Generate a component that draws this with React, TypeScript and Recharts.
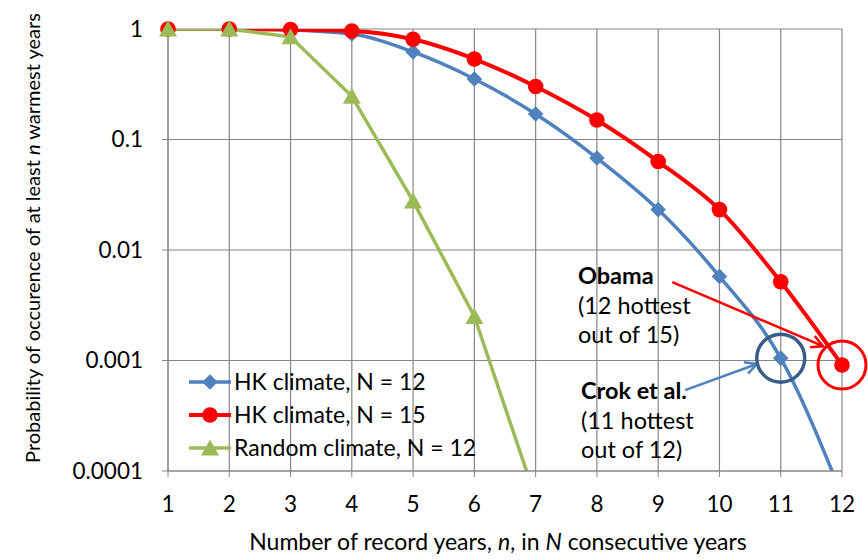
import React from "react";
import {
  LineChart,
  Line,
  XAxis,
  YAxis,
  CartesianGrid,
  ReferenceDot,
  ReferenceLine,
  Legend,
} from "recharts";

// values (log scale, clipped below 0.0001)
const years = [1, 2, 3, 4, 5, 6, 7, 8, 9, 10, 11, 12];
const hkN12 = [1, 1, 0.98, 0.9, 0.62, 0.353, 0.17, 0.068, 0.0232, 0.00577, 0.00105, 0.00006];
const hkN15 = [1, 1, 0.99, 0.96, 0.807, 0.535, 0.302, 0.15, 0.0632, 0.0232, 0.00515, 0.00091];
const randomN12 = [1, 1, 0.85, 0.246, 0.0277, 0.0025, 0.000057, null, null, null, null, null];
const yTicks = [0.0001, 0.001, 0.01, 0.1, 1];
const seriesNames = ["HK climate, N = 12", "HK climate, N = 15", "Random climate, N = 12"];

// callouts: text anchor (data coords) and arrow segments
const obamaText = { x: 7.69, y: 0.0059, lines: ["Obama", "(12 hottest", "out of 15)"] };
const crokText = { x: 7.74, y: 0.00054, lines: ["Crok et al.", "(11 hottest", "out of 12)"] };
const obamaArrow = [{ x: 9.23, y: 0.00513 }, { x: 11.69, y: 0.00135 }];
const crokArrow = [{ x: 9.44, y: 0.00054 }, { x: 10.61, y: 0.00093 }];

const FONT = "Lato, 'Liberation Sans', sans-serif";

const data = years.map((n, i) => ({
  n,
  hk12: hkN12[i],
  hk15: hkN15[i],
  rnd: randomN12[i],
}));

type Kind = "diamond" | "circle" | "triangle";
const series: { key: "hk12" | "hk15" | "rnd"; name: string; color: string; kind: Kind; curve: "monotone" | "linear"; width: number }[] = [
  { key: "hk12", name: seriesNames[0], color: "#4F81BD", kind: "diamond", curve: "monotone", width: 3.5 },
  { key: "hk15", name: seriesNames[1], color: "#FF0000", kind: "circle", curve: "monotone", width: 4 },
  { key: "rnd", name: seriesNames[2], color: "#9BBB59", kind: "triangle", curve: "linear", width: 3.5 },
];

function Marker({ kind, cx, cy, color }: { kind: Kind; cx: number; cy: number; color: string }) {
  if (kind === "diamond") {
    const h = 7.8;
    return <polygon points={`${cx},${cy - h} ${cx + h},${cy} ${cx},${cy + h} ${cx - h},${cy}`} fill={color} />;
  }
  if (kind === "circle") return <circle cx={cx} cy={cy} r={7.8} fill={color} />;
  return <polygon points={`${cx},${cy - 8.5} ${cx + 9},${cy + 7.5} ${cx - 9},${cy + 7.5}`} fill={color} />;
}

function Arrow(props: any) {
  const { x1, y1, x2, y2, stroke } = props;
  const a = Math.atan2(y2 - y1, x2 - x1);
  const len = 13;
  const spread = Math.PI / 6.5;
  const ax = x2 - len * Math.cos(a - spread);
  const ay = y2 - len * Math.sin(a - spread);
  const bx = x2 - len * Math.cos(a + spread);
  const by = y2 - len * Math.sin(a + spread);
  return (
    <g>
      <line x1={x1} y1={y1} x2={x2} y2={y2} stroke={stroke} strokeWidth={2.5} />
      <polyline points={`${ax},${ay} ${x2},${y2} ${bx},${by}`} fill="none" stroke={stroke} strokeWidth={2.5} />
    </g>
  );
}

function Callout({ cx, cy, lines }: { cx?: number; cy?: number; lines: string[] }) {
  if (typeof cx !== "number" || typeof cy !== "number") return null;
  return (
    <text x={cx} y={cy} fontFamily={FONT} fontSize={23.5} fill="#000" dominantBaseline="central">
      {lines.map((l, i) => (
        <tspan key={i} x={cx} dy={i === 0 ? 0 : 29.5} fontWeight={i === 0 ? 700 : 400}>
          {l}
        </tspan>
      ))}
    </text>
  );
}

function LegendBox() {
  return (
    <div style={{ fontFamily: FONT, fontSize: 23, color: "#000", lineHeight: "33px" }}>
      {series.map((s) => (
        <div key={s.key} style={{ display: "flex", alignItems: "center", height: 33 }}>
          <svg width={46} height={20} style={{ display: "block" }}>
            <line x1={1} y1={10} x2={43} y2={10} stroke={s.color} strokeWidth={s.width} />
            <Marker kind={s.kind} cx={22} cy={10} color={s.color} />
          </svg>
          <span>{s.name}</span>
        </div>
      ))}
    </div>
  );
}

function YTitle(props: any) {
  const vb = props.viewBox || { x: 0, y: 29, width: 168, height: 442 };
  const x = vb.x + 32;
  const y = vb.y + vb.height / 2 - 12;
  return (
    <text x={x} y={y} transform={`rotate(-90, ${x}, ${y})`} textAnchor="middle" dominantBaseline="central" fontFamily={FONT} fontSize={20} fill="#000">
      Probability of occurence of at least <tspan fontStyle="italic">n</tspan> warmest years
    </text>
  );
}

function XTitle(props: any) {
  const vb = props.viewBox || { x: 168, y: 471, width: 674, height: 89 };
  const x = vb.x + vb.width / 2 - 7;
  const y = vb.y + 70;
  return (
    <text x={x} y={y} textAnchor="middle" dominantBaseline="central" fontFamily={FONT} fontSize={23} fill="#000">
      Number of record years, <tspan fontStyle="italic">n</tspan>, in <tspan fontStyle="italic">N</tspan> consecutive years
    </text>
  );
}

export default function App() {
  return (
    <div style={{ position: "absolute", left: 0, top: 0, width: 868, height: 560, background: "#fff" }}>
      <LineChart width={868} height={560} data={data} margin={{ top: 29, right: 26, bottom: 0, left: 0 }}>
        <CartesianGrid stroke="#868686" strokeWidth={1.2} />
        <XAxis
          dataKey="n"
          type="number"
          domain={[1, 12]}
          ticks={years}
          height={89}
          stroke="#868686"
          tickSize={6}
          tickMargin={19}
          tick={{ fill: "#000", fontSize: 22.5, fontFamily: FONT }}
          label={<XTitle />}
        />
        <YAxis
          type="number"
          scale="log"
          domain={[0.0001, 1]}
          allowDataOverflow
          ticks={yTicks}
          width={168}
          stroke="#868686"
          tickSize={6}
          tickMargin={19}
          tick={{ fill: "#000", fontSize: 22.5, fontFamily: FONT }}
          tickFormatter={(v: number) => String(v)}
          label={<YTitle />}
        />
        <Legend
          layout="vertical"
          align="center"
          verticalAlign="middle"
          wrapperStyle={{ left: 188, top: 365, width: "auto" }}
          content={() => <LegendBox />}
        />
        {series.map((s) => (
          <Line
            key={s.key}
            dataKey={s.key}
            name={s.name}
            type={s.curve}
            stroke={s.color}
            strokeWidth={s.width}
            dot={false}
            activeDot={false}
            connectNulls={false}
            isAnimationActive={false}
          />
        ))}
        {series.flatMap((s) =>
          data
            .filter((d) => d[s.key] != null)
            .map((d) => (
              <ReferenceDot
                key={`${s.key}-${d.n}`}
                x={d.n}
                y={d[s.key] as number}
                r={8}
                ifOverflow="discard"
                shape={(p: any) => <Marker kind={s.kind} cx={p.cx} cy={p.cy} color={s.color} />}
              />
            ))
        )}
        <ReferenceDot x={11} y={hkN12[10]} r={24} fill="none" stroke="#385D8A" strokeWidth={3.5} ifOverflow="visible" />
        <ReferenceDot x={12} y={hkN15[11] as number} r={24} fill="none" stroke="#FF0000" strokeWidth={3} ifOverflow="visible" />
        <ReferenceLine segment={obamaArrow} stroke="#FF0000" ifOverflow="visible" shape={(p: any) => <Arrow {...p} stroke="#FF0000" />} />
        <ReferenceLine segment={crokArrow} stroke="#4F81BD" ifOverflow="visible" shape={(p: any) => <Arrow {...p} stroke="#4F81BD" />} />
        <ReferenceDot x={obamaText.x} y={obamaText.y} r={1} ifOverflow="visible" shape={(p: any) => <Callout cx={p.cx} cy={p.cy} lines={obamaText.lines} />} />
        <ReferenceDot x={crokText.x} y={crokText.y} r={1} ifOverflow="visible" shape={(p: any) => <Callout cx={p.cx} cy={p.cy} lines={crokText.lines} />} />
      </LineChart>
    </div>
  );
}
